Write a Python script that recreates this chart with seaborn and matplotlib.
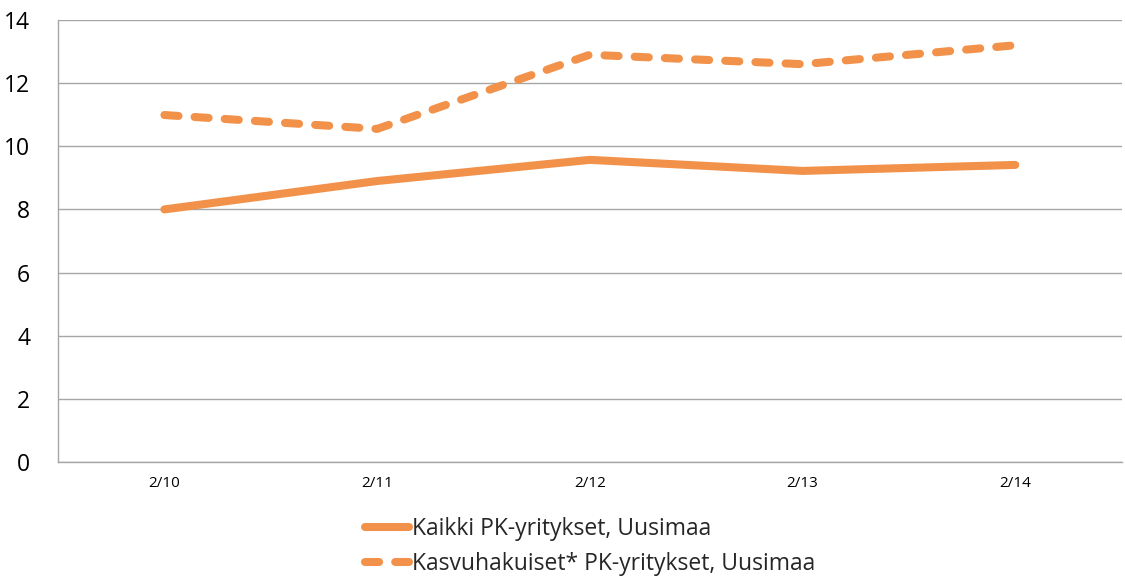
import matplotlib
matplotlib.use("Agg")
import matplotlib.pyplot as plt
import seaborn as sns
import pandas as pd

periods = ["2/10", "2/11", "2/12", "2/13", "2/14"]
kaikki = [8.0, 8.9, 9.57, 9.22, 9.41]
kasvuhakuiset = [10.99, 10.55, 12.9, 12.6, 13.2]
series_names = ["Kaikki PK-yritykset, Uusimaa", "Kasvuhakuiset* PK-yritykset, Uusimaa"]

df = pd.DataFrame({
    "period": periods * 2,
    "value": kaikki + kasvuhakuiset,
    "series": [series_names[0]] * len(periods) + [series_names[1]] * len(periods),
})

sns.set_style("white")
plt.rcParams["font.family"] = ["Open Sans", "DejaVu Sans"]

orange = "#F2914A"
fig = plt.figure(figsize=(11.25, 5.78), dpi=100)
ax = fig.add_axes([0.0516, 0.2007, 0.9454, 0.7647])

sns.lineplot(
    data=df, x="period", y="value", hue="series", style="series",
    palette=[orange, orange], dashes={series_names[0]: "", series_names[1]: (1.75, 2.0)},
    linewidth=5.8, sort=False, legend=False, ax=ax,
    solid_capstyle="round", dash_capstyle="round",
)

ax.set_xlim(-0.5, len(periods) - 0.5)
ax.set_ylim(0, 14)
ax.set_yticks(range(0, 15, 2))
ax.grid(axis="y", color="#a6a6a6", linewidth=1.0)
ax.set_axisbelow(True)
ax.set_xlabel("")
ax.set_ylabel("")
ax.tick_params(axis="y", labelsize=16.5, length=0, pad=20, colors="#000000")
ax.tick_params(axis="x", labelsize=11, length=0, pad=10, colors="#000000")
for s in ["top", "right"]:
    ax.spines[s].set_visible(False)
for s in ["left", "bottom"]:
    ax.spines[s].set_color("#a6a6a6")
    ax.spines[s].set_linewidth(1.0)

handles = ax.get_lines()[:2]
leg = ax.legend(
    handles, series_names, loc="upper center", bbox_to_anchor=(0.5, -0.088),
    frameon=False, fontsize=16.5, handlelength=1.95, handletextpad=0.1,
    labelspacing=0.5, ncol=1, borderaxespad=0.3,
)
for line in leg.get_lines():
    line.set_solid_capstyle("round")
    line.set_dash_capstyle("round")

fig.savefig("out.png", dpi=100)
